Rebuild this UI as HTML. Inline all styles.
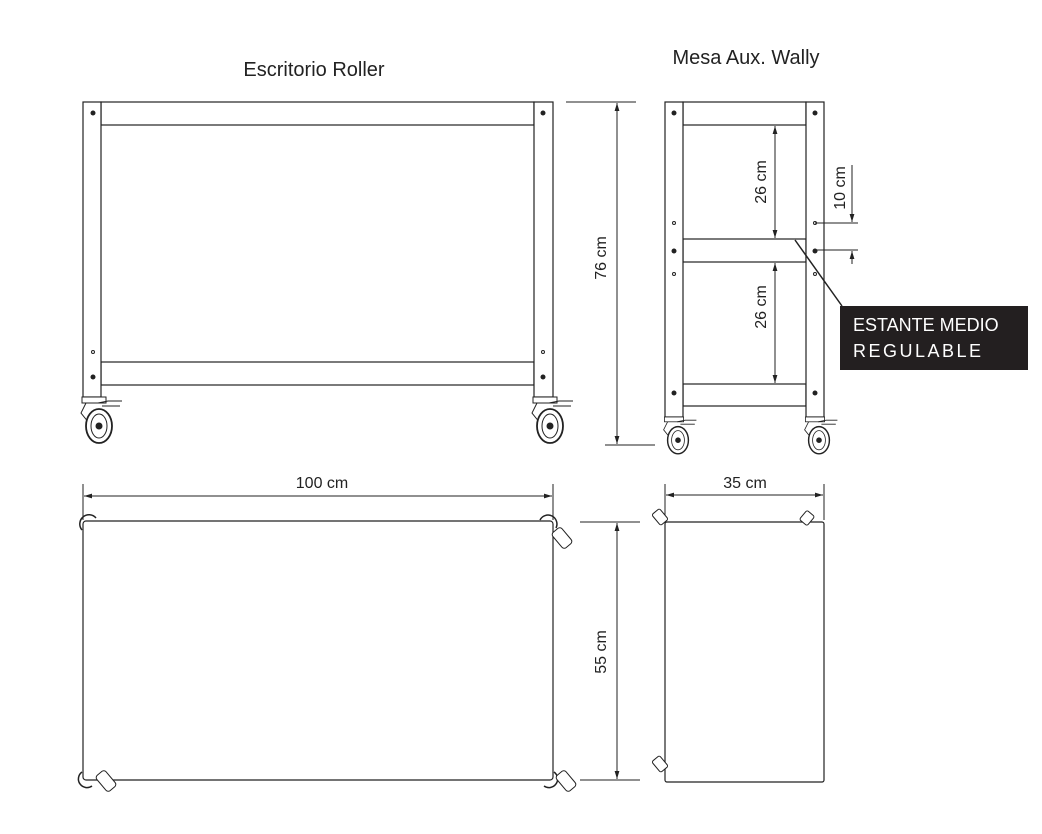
<!DOCTYPE html>
<html><head><meta charset="utf-8"><style>
html,body{margin:0;padding:0;background:#fff;}
svg{display:block;font-family:"Liberation Sans",sans-serif;}
</style></head><body>
<svg width="1042" height="834" viewBox="0 0 1042 834" xmlns="http://www.w3.org/2000/svg">
<defs>
<marker id="a" viewBox="0 0 10 10" refX="10" refY="5" markerWidth="8" markerHeight="8" orient="auto-start-reverse"><path d="M0,2 L10,5 L0,8 z" fill="#222"/></marker>
<g id="caster">
 <rect x="-12" y="0" width="24" height="6" fill="#fff" stroke="#222" stroke-width="1"/>
 <path d="M4,6 L14,4 L28,4 M8,9 L26,9" fill="none" stroke="#222"/>
 <path d="M-8,6 L-13,16 L-5,26" fill="none" stroke="#222"/>
 <ellipse cx="5" cy="29" rx="13" ry="17" fill="#fff" stroke="#222" stroke-width="1.8"/>
 <ellipse cx="5" cy="29" rx="8" ry="12" fill="none" stroke="#222"/>
 <circle cx="5" cy="29" r="3.5" fill="#222"/>
</g>
</defs>
<g fill="#222" font-size="20">
<text x="314" y="76" text-anchor="middle">Escritorio Roller</text>
<text x="746" y="64" text-anchor="middle">Mesa Aux. Wally</text>
</g>
<g stroke="#222" stroke-width="1.2" fill="#fff">
<rect x="101" y="102" width="433" height="23"/>
<rect x="101" y="362" width="433" height="23"/>
<rect x="83" y="102" width="18" height="295"/>
<rect x="534" y="102" width="19" height="295"/>
<rect x="683" y="102" width="123" height="23"/>
<rect x="683" y="239" width="123" height="23"/>
<rect x="683" y="384" width="123" height="22"/>
<rect x="665" y="102" width="18" height="315"/>
<rect x="806" y="102" width="18" height="315"/>
<rect x="83" y="521" width="470" height="259" rx="3"/>
<rect x="665" y="522" width="159" height="260" rx="2"/>
</g>
<g fill="#222">
<circle cx="93" cy="113" r="2.5"/><circle cx="543" cy="113" r="2.5"/>
<circle cx="93" cy="377" r="2.5"/><circle cx="543" cy="377" r="2.5"/>
<circle cx="674" cy="113" r="2.5"/><circle cx="815" cy="113" r="2.5"/>
<circle cx="674" cy="251" r="2.5"/><circle cx="815" cy="251" r="2.5"/>
<circle cx="674" cy="393" r="2.5"/><circle cx="815" cy="393" r="2.5"/>
</g>
<g fill="none" stroke="#222" stroke-width="1">
<circle cx="93" cy="352" r="1.5"/><circle cx="543" cy="352" r="1.5"/>
<circle cx="674" cy="223" r="1.5"/><circle cx="815" cy="223" r="1.5"/>
<circle cx="674" cy="274" r="1.5"/><circle cx="815" cy="274" r="1.5"/>
</g>
<use href="#caster" x="94" y="397"/>
<use href="#caster" x="545" y="397"/>
<use href="#caster" transform="translate(674 417) scale(0.8)"/>
<use href="#caster" transform="translate(815 417) scale(0.8)"/>
<g stroke="#222" stroke-width="1" fill="none">
<line x1="566" y1="102" x2="636" y2="102"/>
<line x1="605" y1="445" x2="655" y2="445"/>
<line x1="617" y1="103" x2="617" y2="444" marker-start="url(#a)" marker-end="url(#a)"/>
<line x1="775" y1="126" x2="775" y2="238" marker-start="url(#a)" marker-end="url(#a)"/>
<line x1="775" y1="263" x2="775" y2="383" marker-start="url(#a)" marker-end="url(#a)"/>
<line x1="815" y1="223" x2="858" y2="223"/>
<line x1="815" y1="250" x2="858" y2="250"/>
<line x1="852" y1="165" x2="852" y2="222" marker-end="url(#a)"/>
<line x1="852" y1="264" x2="852" y2="251" marker-end="url(#a)"/>
<line x1="795" y1="240" x2="842" y2="306" stroke-width="1.5"/>
<line x1="83" y1="484" x2="83" y2="520"/>
<line x1="553" y1="484" x2="553" y2="520"/>
<line x1="84" y1="496" x2="552" y2="496" marker-start="url(#a)" marker-end="url(#a)"/>
<line x1="580" y1="522" x2="640" y2="522"/>
<line x1="580" y1="780" x2="640" y2="780"/>
<line x1="617" y1="523" x2="617" y2="779" marker-start="url(#a)" marker-end="url(#a)"/>
<line x1="665" y1="484" x2="665" y2="520"/>
<line x1="824" y1="484" x2="824" y2="520"/>
<line x1="666" y1="495" x2="823" y2="495" marker-start="url(#a)" marker-end="url(#a)"/>
<path d="M82,530 A7,7 0 0 1 96,518" stroke-width="1.5"/>
<path d="M82,772 A7,7 0 0 0 92,786" stroke-width="1.5"/>
<path d="M540,520 A7,7 0 0 1 556,528" stroke-width="1.5"/>
<path d="M554,772 A7,7 0 0 1 544,786" stroke-width="1.5"/>
</g>
<g stroke="#222" stroke-width="1" fill="#fff">
<rect x="556" y="528" width="12" height="20" rx="3" transform="rotate(-40 562 538)"/>
<rect x="560" y="771" width="12" height="20" rx="3" transform="rotate(-40 566 781)"/>
<rect x="100" y="771" width="12" height="20" rx="3" transform="rotate(-40 106 781)"/>
<rect x="655" y="510" width="10" height="14" rx="2" transform="rotate(-40 660 517)"/>
<rect x="655" y="757" width="10" height="14" rx="2" transform="rotate(-40 660 764)"/>
<rect x="802" y="512" width="10" height="12" rx="2" transform="rotate(40 807 518)"/>
</g>
<g fill="#222" font-size="16">
<text x="322" y="488" text-anchor="middle">100 cm</text>
<text x="745" y="488" text-anchor="middle">35 cm</text>
<text transform="translate(606 258) rotate(-90)" text-anchor="middle">76 cm</text>
<text transform="translate(766 182) rotate(-90)" text-anchor="middle">26 cm</text>
<text transform="translate(766 307) rotate(-90)" text-anchor="middle">26 cm</text>
<text transform="translate(845 188) rotate(-90)" text-anchor="middle">10 cm</text>
<text transform="translate(606 652) rotate(-90)" text-anchor="middle">55 cm</text>
</g>
<rect x="840" y="306" width="188" height="64" fill="#231f20"/>
<g fill="#fff" font-size="18">
<text x="853" y="331">ESTANTE MEDIO</text>
<text x="853" y="357" letter-spacing="2.5">REGULABLE</text>
</g>
</svg>
</body></html>
